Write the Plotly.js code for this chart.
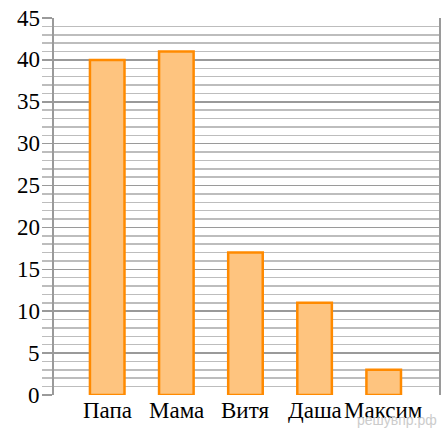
<!DOCTYPE html>
<html>
<head>
<meta charset="utf-8">
<script src="https://cdn.plot.ly/plotly-3.0.1.min.js"></script>
<style>html,body{margin:0;padding:0;background:#fff;}#chart{width:442px;height:430px;}</style>
</head>
<body>
<div id="chart"></div>
<script>
const names = ["Папа", "Мама", "Витя", "Даша", "Максим"];
const values = [40, 41, 17, 11, 3];
const positions = [0, 1, 2, 3, 4];
const yTicks = [0, 5, 10, 15, 20, 25, 30, 35, 40, 45];

const labelFont = {family: 'Liberation Serif', size: 23, color: '#000'};

const trace = {
  type: 'bar',
  x: positions,
  y: values,
  width: 0.5,
  marker: {color: '#FEC47F', line: {color: '#FF8A00', width: 2.5}},
  hoverinfo: 'skip'
};

const xLabels = positions.map((p, i) => ({
  text: names[i], xref: 'x', yref: 'paper', x: p, y: 0,
  xanchor: 'center', yanchor: 'top', yshift: -1, showarrow: false, font: labelFont
}));
const yLabels = yTicks.map(v => ({
  text: String(v), xref: 'paper', yref: 'y', x: 0, y: v,
  xanchor: 'right', yanchor: 'middle', xshift: -12, showarrow: false, font: labelFont
}));

const layout = {
  width: 442, height: 430,
  font: {family: 'Liberation Serif', size: 23},
  margin: {l: 54, r: 3, t: 18, b: 35},
  paper_bgcolor: '#fff', plot_bgcolor: '#fff',
  showlegend: false,
  xaxis: {
    type: 'linear',
    range: [-0.77, 4.8],
    tickvals: positions,
    showticklabels: false,
    showgrid: false, zeroline: false, showline: false,
    ticks: '',
    fixedrange: true
  },
  yaxis: {
    range: [0, 45],
    tickvals: yTicks,
    showticklabels: false,
    showgrid: true, gridcolor: '#9a9a9a', gridwidth: 1.5,
    zeroline: false,
    showline: true, linecolor: '#9a9a9a', linewidth: 2, mirror: true,
    ticks: 'outside', ticklen: 10, tickcolor: '#9a9a9a', tickwidth: 1.5,
    minor: {dtick: 1, showgrid: true, gridcolor: '#bdbdbd', gridwidth: 1.5, ticks: 'outside', ticklen: 10, tickcolor: '#bdbdbd', tickwidth: 1.5},
    fixedrange: true
  },
  annotations: xLabels.concat(yLabels, [{
    text: 'решувпр.рф', xref: 'paper', yref: 'paper',
    x: 1.0, y: -0.065, xanchor: 'right', yanchor: 'middle',
    showarrow: false,
    font: {family: 'Liberation Sans', size: 14, color: '#cccccc'}
  }])
};

Plotly.newPlot('chart', [trace], layout, {staticPlot: true});
</script>
</body>
</html>
